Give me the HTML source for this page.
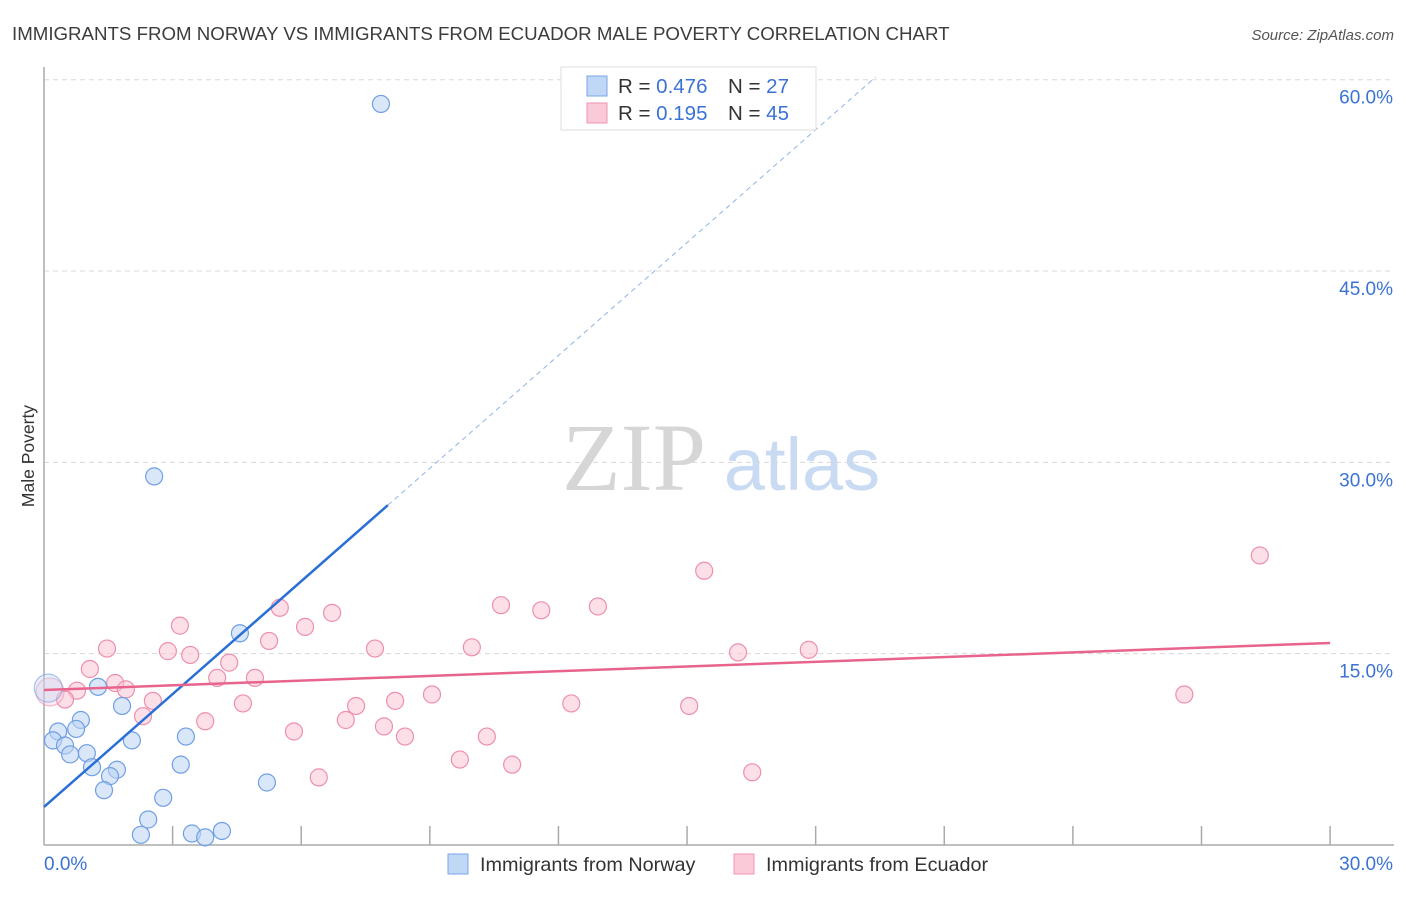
<!DOCTYPE html>
<html><head><meta charset="utf-8"><style>
body{margin:0;background:#fff;font-family:"Liberation Sans",sans-serif}
</style></head><body>
<svg id="c" width="1406" height="892" font-family="Liberation Sans, sans-serif">
<text x="12" y="40" font-size="18.7" fill="#3c3c3c">IMMIGRANTS FROM NORWAY VS IMMIGRANTS FROM ECUADOR MALE POVERTY CORRELATION CHART</text>
<text x="1394" y="40" font-size="15" fill="#555" font-style="italic" text-anchor="end">Source: ZipAtlas.com</text>
<text x="34" y="456" font-size="17.5" fill="#333" text-anchor="middle" transform="rotate(-90 34 456)">Male Poverty</text>
<g><text x="634" y="490" font-size="96" fill="#d6d6d6" style="font-family:'Liberation Serif',serif" text-anchor="middle">ZIP</text><text x="802" y="490" font-size="74" fill="#c9daf3" text-anchor="middle">atlas</text></g>
<g id="grid"></g><g id="axes"></g><g id="marks"></g>
<g>
<rect x="561" y="67" width="255" height="63" fill="#fff" stroke="#ddd"/>
<rect x="587" y="76" width="20" height="20" fill="#c0d7f5" stroke="#7aa6e6"/>
<rect x="587" y="103" width="20" height="20" fill="#fbcad8" stroke="#ee94b0"/>
<text x="618" y="93" font-size="20.5" fill="#333">R = <tspan fill="#3b73d4">0.476</tspan></text>
<text x="728" y="93" font-size="20.5" fill="#333">N = <tspan fill="#3b73d4">27</tspan></text>
<text x="618" y="120" font-size="20.5" fill="#333">R = <tspan fill="#3b73d4"> 0.195</tspan></text>
<text x="728" y="120" font-size="20.5" fill="#333">N = <tspan fill="#3b73d4">45</tspan></text>
</g>
<g>
<rect x="448" y="854" width="20" height="20" fill="#c0d7f5" stroke="#7aa6e6"/>
<text x="480" y="871" font-size="19.8" fill="#333">Immigrants from Norway</text>
<rect x="734" y="854" width="20" height="20" fill="#fbcad8" stroke="#ee94b0"/>
<text x="766" y="871" font-size="19.8" fill="#333">Immigrants from Ecuador</text>
</g>
</svg>
<script>
const yTicks=[15,30,45,60];
const yTickLabels=["15.0%","30.0%","45.0%","60.0%"];
const xTickCount=10;
const norwayX=[7.86,2.57,4.57,1.26,1.82,0.86,0.75,0.33,0.21,0.49,1.0,0.61,2.05,3.31,3.19,1.12,1.70,1.54,1.40,5.2,2.78,2.43,2.26,3.45,3.76,4.15,0.1];
const norwayY=[58.1,28.9,16.6,12.4,10.9,9.8,9.1,8.9,8.2,7.8,7.2,7.1,8.2,8.5,6.3,6.1,5.9,5.4,4.3,4.9,3.7,2.0,0.8,0.9,0.6,1.1,12.3];
const ecuadorX=[28.36,15.4,10.66,11.6,12.92,5.5,6.72,6.09,3.17,5.25,1.47,2.89,3.41,7.72,9.98,16.19,17.84,4.32,1.07,4.04,4.92,1.66,1.91,0.77,0.49,2.54,9.05,8.19,26.6,4.64,7.28,12.3,15.05,2.31,3.76,7.04,7.93,5.83,8.42,10.33,9.7,10.92,6.41,16.52,0.14];
const ecuadorY=[22.7,21.5,18.8,18.4,18.7,18.6,18.2,17.1,17.2,16.0,15.4,15.2,14.9,15.4,15.5,15.1,15.3,14.3,13.8,13.1,13.1,12.7,12.2,12.1,11.4,11.3,11.8,11.3,11.8,11.1,10.9,11.1,10.9,10.1,9.7,9.8,9.3,8.9,8.5,8.5,6.7,6.3,5.3,5.7,12.0];
const norwayTrend=[2.98,2.95]; // intercept, slope
const ecuadorTrend=[12.15,0.123];
const NS="http://www.w3.org/2000/svg";
const X=v=>44+v*42.87, Y=v=>845-v*12.755;
function mk(t,a,p){const e=document.createElementNS(NS,t);for(const k in a)e.setAttribute(k,a[k]);p.appendChild(e);return e;}
const grid=document.getElementById('grid'),axes=document.getElementById('axes'),marks=document.getElementById('marks');
yTicks.forEach((v,i)=>{
 const l=mk('line',{x1:44,x2:1394,y1:Y(v),y2:Y(v),stroke:'#d8d8d8','stroke-dasharray':'5,4'},grid);
 
 
 const t=mk('text',{x:1393,y:Y(v)+24,'font-size':19,fill:'#3b73d4','text-anchor':'end'},axes);
 t.textContent=yTickLabels[i];
 
 
});
mk('line',{x1:44,x2:44,y1:67,y2:845,stroke:'#aaa','stroke-width':1.5},axes);
mk('line',{x1:44,x2:1394,y1:845,y2:845,stroke:'#aaa','stroke-width':1.5},axes);
for(let i=1;i<=xTickCount;i++){const x=X(i*3);mk('line',{x1:x,x2:x,y1:826,y2:845,stroke:'#aaa','stroke-width':1.5},axes);}
let t=mk('text',{x:44,y:870,'font-size':19,fill:'#3b73d4'},axes);t.textContent='0.0%';


t=mk('text',{x:1393,y:870,'font-size':19,fill:'#3b73d4','text-anchor':'end'},axes);t.textContent='30.0%';


function dots(xs,ys,fill,stroke,name){xs.forEach((x,i)=>{const last=i===xs.length-1;
 const c=mk('circle',{cx:X(x),cy:Y(ys[i]),r:last?14:8.5,fill:fill,'fill-opacity':last?0.35:0.55,stroke:stroke,'stroke-width':1.2,'stroke-opacity':last?0.6:1},marks);
 
 });}
dots(ecuadorX,ecuadorY,'#f9c4d3','#ee8fad','ecuador-point');
dots(norwayX,norwayY,'#bcd4f4','#6f9fe4','norway-point');
let l=mk('line',{x1:X(0),y1:Y(norwayTrend[0]),x2:X(8.02),y2:Y(norwayTrend[0]+norwayTrend[1]*8.02),stroke:'#2a6fd6','stroke-width':2.5},marks);


const xe=(60.2-norwayTrend[0])/norwayTrend[1];
l=mk('line',{x1:X(8.02),y1:Y(norwayTrend[0]+norwayTrend[1]*8.02),x2:X(xe),y2:Y(60.2),stroke:'#8fb3e8','stroke-width':1,'stroke-dasharray':'5,4'},marks);


l=mk('line',{x1:X(0),y1:Y(ecuadorTrend[0]),x2:X(30),y2:Y(ecuadorTrend[0]+ecuadorTrend[1]*30),stroke:'#e8648d','stroke-width':2.5},marks);


</script>
</body></html>
